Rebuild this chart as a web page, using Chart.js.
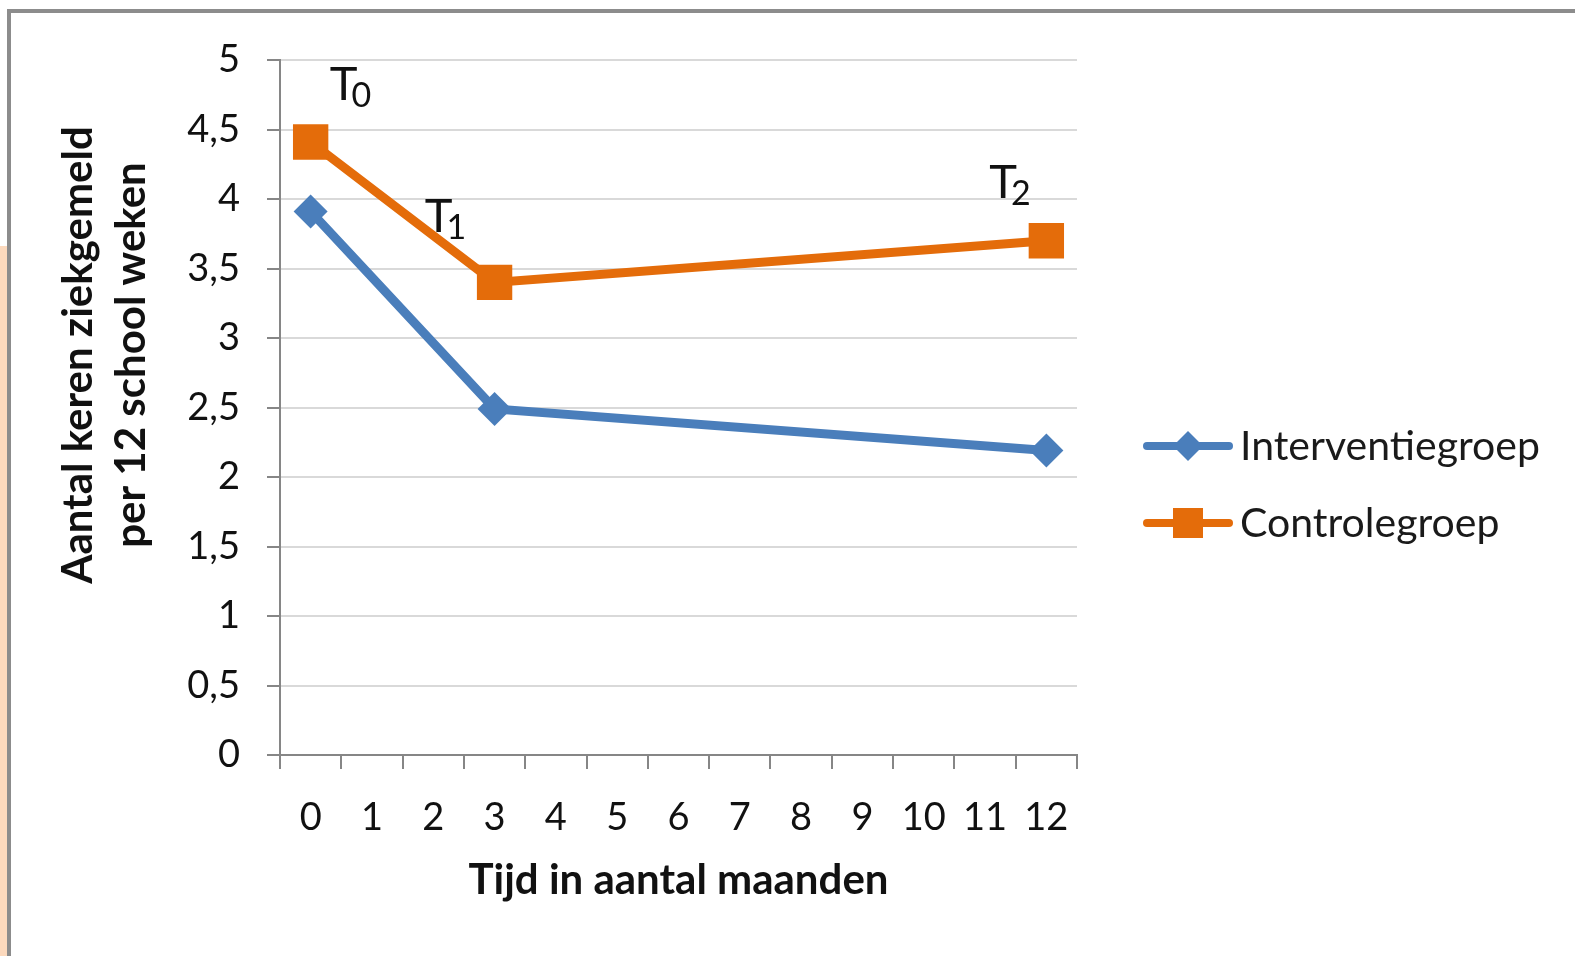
<!DOCTYPE html>
<html>
<head>
<meta charset="utf-8">
<script src="https://cdn.jsdelivr.net/npm/chart.js@4.4.1/dist/chart.umd.min.js"></script>
<style>
  html, body { margin: 0; padding: 0; background: #fff; }
  #wrap { position: relative; width: 1575px; height: 956px; overflow: hidden; }
  #grafiek { position: absolute; left: 0; top: 0; }
  .rand-boven { position: absolute; left: 7px; top: 9px; width: 1568px; height: 4px; background: #8c8c8c; }
  .rand-links { position: absolute; left: 7px; top: 9px; width: 4px; height: 947px; background: #8c8c8c; }
  .strook { position: absolute; left: 0; top: 246px; width: 7px; height: 710px; background: #fcd9bd; }
</style>
</head>
<body>
<div id="wrap">
  <canvas id="grafiek" width="1575" height="956"></canvas>
  <div class="strook"></div>
  <div class="rand-links"></div>
  <div class="rand-boven"></div>
</div>
<script>
// maanden op de x-as
const maanden = ['0', '1', '2', '3', '4', '5', '6', '7', '8', '9', '10', '11', '12'];
// gemeten op T0 (0 mnd), T1 (3 mnd) en T2 (12 mnd)
const interventie = [3.91, null, null, 2.49, null, null, null, null, null, null, null, null, 2.19];
const controle = [4.41, null, null, 3.40, null, null, null, null, null, null, null, null, 3.70];
const yTicks = [0, 0.5, 1, 1.5, 2, 2.5, 3, 3.5, 4, 4.5, 5];
// meetmomenten T0, T1, T2 (positie in maand-index / waarde)
const meetLabels = ['0', '1', '2'];
const meetX = [0.31, 1.86, 11.07];
const meetY = [4.71, 3.76, 4.01];

const FONT = 'Lato, "Open Sans", sans-serif';
const BLAUW = '#4a7ebb';
const ORANJE = '#e46c0a';

// legenda rechts, lijn met marker zoals in Excel
const legendaPlugin = {
  id: 'legenda',
  afterDraw(chart) {
    const ctx = chart.ctx;
    const ys = [446, 523];
    chart.data.datasets.forEach((ds, i) => {
      const y = ys[i];
      ctx.save();
      ctx.strokeStyle = ds.borderColor;
      ctx.lineWidth = 8;
      ctx.lineCap = 'round';
      ctx.beginPath();
      ctx.moveTo(1147, y);
      ctx.lineTo(1229, y);
      ctx.stroke();
      ctx.fillStyle = ds.borderColor;
      ctx.beginPath();
      if (ds.pointStyle === 'rectRot') {
        ctx.moveTo(1188, y - 15);
        ctx.lineTo(1203, y);
        ctx.lineTo(1188, y + 15);
        ctx.lineTo(1173, y);
        ctx.closePath();
      } else {
        ctx.rect(1173, y - 15, 30, 30);
      }
      ctx.fill();
      ctx.fillStyle = '#1a1a1a';
      ctx.font = '41px ' + FONT;
      ctx.textBaseline = 'middle';
      ctx.fillText(ds.label, 1240, y + 1);
      ctx.restore();
    });
  }
};

// T0, T1, T2 en de titel van de y-as
const tekstPlugin = {
  id: 'teksten',
  afterDraw(chart) {
    const ctx = chart.ctx;
    const xs = chart.scales.x, ys = chart.scales.y;
    ctx.save();
    ctx.fillStyle = '#111';
    ctx.textBaseline = 'alphabetic';
    meetLabels.forEach((sub, i) => {
      const x = xs.getPixelForValue(meetX[i]);
      const y = ys.getPixelForValue(meetY[i]);
      ctx.font = '47px ' + FONT;
      ctx.fillText('T', x, y);
      const w = ctx.measureText('T').width;
      ctx.font = '34px ' + FONT;
      ctx.fillText(sub, x + w - 6, y + 7);
    });
    // y-as titel, twee regels
    ctx.translate(0, 355);
    ctx.rotate(-Math.PI / 2);
    ctx.font = 'bold 42px ' + FONT;
    ctx.textAlign = 'center';
    ctx.textBaseline = 'middle';
    ctx.fillText('Aantal keren ziekgemeld', 0, 78);
    ctx.fillText('per 12 school weken', 0, 131);
    ctx.restore();
  }
};

new Chart(document.getElementById('grafiek'), {
  type: 'line',
  data: {
    labels: maanden,
    datasets: [{
      label: 'Interventiegroep',
      data: interventie,
      borderColor: BLAUW,
      backgroundColor: BLAUW,
      borderWidth: 9,
      pointStyle: 'rectRot',
      pointRadius: 17,
      pointBorderWidth: 0,
      spanGaps: true
    }, {
      label: 'Controlegroep',
      data: controle,
      borderColor: ORANJE,
      backgroundColor: ORANJE,
      borderWidth: 9,
      pointStyle: 'rect',
      pointRadius: 25,
      pointBorderWidth: 0,
      spanGaps: true
    }]
  },
  options: {
    responsive: false,
    animation: false,
    events: [],
    layout: { padding: { left: 0, top: 60, right: 498, bottom: 0 } },
    scales: {
      x: {
        type: 'category',
        offset: true,
        grid: { offset: true, drawOnChartArea: false, tickLength: 14, tickColor: '#868686', lineWidth: 2 },
        border: { color: '#868686', width: 2 },
        ticks: { color: '#111', font: { family: FONT, size: 38 }, padding: 26, maxRotation: 0, autoSkip: false },
        title: { display: true, text: 'Tijd in aantal maanden', color: '#111', font: { family: FONT, size: 42, weight: 'bold' }, padding: { top: 0, bottom: 50 } },
        afterFit(s) { s.height = 201; }
      },
      y: {
        min: 0,
        max: 5,
        afterBuildTicks(s) { s.ticks = yTicks.map(v => ({ value: v })); },
        grid: { color: '#d9d9d9', lineWidth: 2, tickLength: 13, tickColor: '#868686' },
        border: { color: '#868686', width: 2 },
        ticks: {
          color: '#111',
          font: { family: FONT, size: 38 },
          padding: 27,
          callback: v => String(v).replace('.', ',')
        },
        afterFit(s) { s.width = 280; }
      }
    },
    plugins: {
      legend: { display: false },
      tooltip: { enabled: false }
    }
  },
  plugins: [legendaPlugin, tekstPlugin]
});
</script>
</body>
</html>
